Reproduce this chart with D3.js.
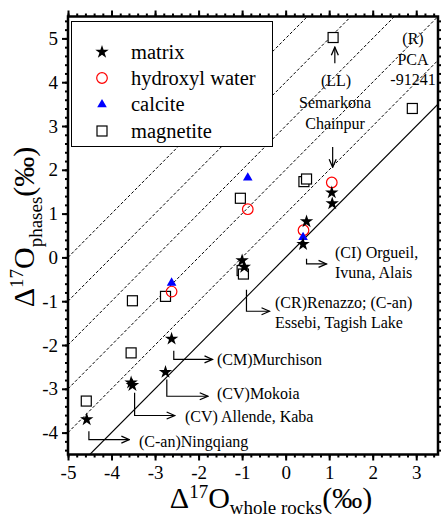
<!DOCTYPE html>
<html>
<head>
<meta charset="utf-8">
<script src="https://cdn.jsdelivr.net/npm/d3@7"></script>
<style>
  body { margin: 0; background: #fff; }
  svg { display: block; font-family: "Liberation Serif", "Times New Roman", serif; }
</style>
</head>
<body>
<div id="chart"></div>
<script>
// values (delta 17O, permil)
var matrixX = [-4.57, -3.55, -3.52, -2.76, -2.62, -1.00, -0.95, 0.40, 0.48, 1.06, 1.07];
var matrixY = [-3.70, -2.86, -2.92, -2.62, -1.86, -0.07, -0.22, 0.30, 0.82, 1.48, 1.23];
var hydroxylX = [-2.62, -0.87, 0.41, 1.06];
var hydroxylY = [-0.78, 1.10, 0.62, 1.71];
var calciteX = [-2.62, -0.87, 0.40];
var calciteY = [-0.57, 1.83, 0.47];
var magnetiteX = [-4.58, -3.55, -3.52, -2.76, -1.04, -1.00, -0.97, 0.42, 0.48, 1.09, 2.91];
var magnetiteY = [-3.28, -2.18, -0.99, -0.89, 1.35, -0.30, -0.38, 1.73, 1.79, 5.02, 3.40];

var lineOffsets = [0, 1, 2, 3, 4, 5];   // y = x + k
var xTicks = [-5, -4, -3, -2, -1, 0, 1, 2, 3];
var yTicks = [-4, -3, -2, -1, 0, 1, 2, 3, 4, 5];
var legendNames = ["matrix", "hydroxyl water", "calcite", "magnetite"];

// elbow arrows: [x0, y0, yBend, xEnd] in data units
var elbows = [
    [0.48, -0.03, -0.15, 0.94],
    [-0.90, -0.74, -1.23, -0.37],
    [-2.57, -2.13, -2.33, -1.68],
    [-2.73, -2.79, -3.17, -1.79],
    [-3.47, -3.09, -3.61, -2.55],
    [-4.52, -3.97, -4.16, -3.59]
];

var width = 441;
var height = 519;

var x = d3.scaleLinear().domain([-5, 3.5]).range([68, 438]);
var y = d3.scaleLinear().domain([-4.5, 5.5]).range([454.5, 16.5]);

var svg = d3.select("#chart")
            .append("svg")
            .attr("width", width)
            .attr("height", height);

svg.append("defs").append("clipPath").attr("id", "plot")
    .append("rect")
    .attr("x", 68).attr("y", 16.5)
    .attr("width", 370).attr("height", 438);

svg.select("defs").append("marker")
    .attr("id", "head")
    .attr("viewBox", "-9 -5 10 10")
    .attr("refX", 0).attr("refY", 0)
    .attr("markerUnits", "userSpaceOnUse")
    .attr("markerWidth", 10).attr("markerHeight", 10)
    .attr("orient", "auto")
    .append("path")
    .attr("d", "M-8,-3.5 L0,0 L-8,3.5")
    .attr("fill", "none")
    .attr("stroke", "black")
    .attr("stroke-width", 1.3);

// reference lines
var lines = svg.append("g").attr("clip-path", "url(#plot)");
lines.selectAll("line")
    .data(lineOffsets)
    .enter()
    .append("line")
    .attr("x1", x(-5)).attr("x2", x(3.5))
    .attr("y1", (k) => y(-5 + k))
    .attr("y2", (k) => y(3.5 + k))
    .attr("stroke", "black")
    .attr("stroke-width", (k) => k == 0 ? 1.2 : 1)
    .attr("stroke-dasharray", (k) => k == 0 ? null : "3,2");

// legend
var legend = svg.append("g");
legend.append("rect")
    .attr("x", 71.5).attr("y", 21.5)
    .attr("width", 201).attr("height", 125)
    .attr("fill", "white")
    .attr("stroke", "black")
    .attr("stroke-width", 1);

var legendRows = [52, 78, 104, 131];

function drawSymbol(g, kind, cx, cy) {
    if (kind == 0) {
        g.append("path")
            .attr("d", d3.symbol(d3.symbolStar, 56)())
            .attr("transform", "translate(" + cx + "," + cy + ")")
            .attr("fill", "black");
    } else if (kind == 1) {
        g.append("circle")
            .attr("cx", cx).attr("cy", cy).attr("r", 5.3)
            .attr("fill", "none")
            .attr("stroke", "#ff0000")
            .attr("stroke-width", 1.2);
    } else if (kind == 2) {
        g.append("path")
            .attr("d", d3.symbol(d3.symbolTriangle, 40)())
            .attr("transform", "translate(" + cx + "," + (cy + 0.5) + ")")
            .attr("fill", "#0000ff");
    } else {
        g.append("rect")
            .attr("x", cx - 5).attr("y", cy - 5)
            .attr("width", 10).attr("height", 10)
            .attr("fill", "white")
            .attr("stroke", "black")
            .attr("stroke-width", 1.2);
    }
}

legendNames.forEach(function(name, i) {
    drawSymbol(legend, i, 102, legendRows[i]);
    legend.append("text")
        .attr("x", 131)
        .attr("y", legendRows[i] + 6.5)
        .attr("font-size", 20.5)
        .text(name);
});

// data points, magnetite first so the others sit on top
var marks = svg.append("g");
magnetiteX.forEach((d, i) => drawSymbol(marks, 3, x(d), y(magnetiteY[i])));
hydroxylX.forEach((d, i) => drawSymbol(marks, 1, x(d), y(hydroxylY[i])));
calciteX.forEach((d, i) => drawSymbol(marks, 2, x(d), y(calciteY[i])));
matrixX.forEach((d, i) => drawSymbol(marks, 0, x(d), y(matrixY[i])));

// annotations
var notes = svg.append("g").attr("font-size", 16);

notes.selectAll("path")
    .data(elbows)
    .enter()
    .append("path")
    .attr("d", (e) => "M" + x(e[0]) + "," + y(e[1]) + "V" + y(e[2]) + "H" + x(e[3]))
    .attr("fill", "none")
    .attr("stroke", "black")
    .attr("stroke-width", 1.2)
    .attr("marker-end", "url(#head)");

notes.append("line")
    .attr("x1", x(1.13)).attr("x2", x(1.13))
    .attr("y1", y(4.43)).attr("y2", y(4.8))
    .attr("stroke", "black").attr("stroke-width", 1.2)
    .attr("marker-end", "url(#head)");
notes.append("line")
    .attr("x1", x(1.08)).attr("x2", x(1.08))
    .attr("y1", y(2.52)).attr("y2", y(2.06))
    .attr("stroke", "black").attr("stroke-width", 1.2)
    .attr("marker-end", "url(#head)");

var labels = [
    ["(LL)", 336, 86, "middle"],
    ["Semarkona", 335, 108, "middle"],
    ["Chainpur", 335, 129, "middle"],
    ["(R)", 413, 44, "middle"],
    ["PCA", 413, 65, "middle"],
    ["-91241", 413, 85, "middle"],
    ["(CI) Orgueil,", 335, 258, "start"],
    ["Ivuna, Alais", 335, 278, "start"],
    ["(CR)Renazzo; (C-an)", 275, 308, "start"],
    ["Essebi, Tagish Lake", 275, 328, "start"],
    ["(CM)Murchison", 217, 365, "start"],
    ["(CV)Mokoia", 217, 399, "start"],
    ["(CV) Allende, Kaba", 185, 422, "start"],
    ["(C-an)Ningqiang", 139, 447, "start"]
];
notes.selectAll("text")
    .data(labels)
    .enter()
    .append("text")
    .attr("x", (d) => d[1])
    .attr("y", (d) => d[2])
    .attr("text-anchor", (d) => d[3])
    .text((d) => d[0]);

// frame and axes
function styleAxis(g) {
    g.select(".domain").remove();
    g.selectAll("line").attr("stroke", "black").attr("stroke-width", 2);
    g.selectAll("text").attr("font-size", 19).attr("font-family", "Liberation Serif");
}

var minorX = d3.range(-5, 3.51, 0.2);
var minorY = d3.range(-4.4, 5.51, 0.2);

svg.append("g").attr("transform", "translate(0,454.5)")
    .call(d3.axisBottom(x).tickValues(xTicks).tickSize(6).tickPadding(5).tickFormat((d) => String(d)))
    .call(styleAxis);
svg.append("g").attr("transform", "translate(0,454.5)")
    .call(d3.axisBottom(x).tickValues(minorX).tickSize(3).tickFormat(""))
    .call(styleAxis);
svg.append("g").attr("transform", "translate(0,16.5)")
    .call(d3.axisTop(x).tickValues(minorX).tickSize(3).tickFormat(""))
    .call(styleAxis);
svg.append("g").attr("transform", "translate(0,16.5)")
    .call(d3.axisTop(x).tickValues(xTicks).tickSize(6).tickFormat(""))
    .call(styleAxis);

svg.append("g").attr("transform", "translate(68,0)")
    .call(d3.axisLeft(y).tickValues(yTicks).tickSize(6).tickPadding(4).tickFormat((d) => String(d)))
    .call(styleAxis);
svg.append("g").attr("transform", "translate(68,0)")
    .call(d3.axisLeft(y).tickValues(minorY).tickSize(3).tickFormat(""))
    .call(styleAxis);
svg.append("g").attr("transform", "translate(438,0)")
    .call(d3.axisRight(y).tickValues(minorY).tickSize(3).tickFormat(""))
    .call(styleAxis);

svg.append("rect")
    .attr("x", 68).attr("y", 16.5)
    .attr("width", 370).attr("height", 438)
    .attr("fill", "none")
    .attr("stroke", "black")
    .attr("stroke-width", 2.5);

// axis titles
var xt = svg.append("text")
    .attr("x", 271).attr("y", 508)
    .attr("text-anchor", "middle")
    .attr("font-size", 30);
xt.append("tspan").text("\u0394");
xt.append("tspan").attr("font-size", 19).attr("dy", -10).text("17");
xt.append("tspan").attr("dy", 10).text("O");
xt.append("tspan").attr("font-size", 19).attr("dy", 6).text("whole rocks");
xt.append("tspan").attr("dy", -6).text("(\u2030)");

var yt = svg.append("text")
    .attr("transform", "translate(34,227) rotate(-90)")
    .attr("text-anchor", "middle")
    .attr("font-size", 30);
yt.append("tspan").text("\u0394");
yt.append("tspan").attr("font-size", 19).attr("dy", -11).text("17");
yt.append("tspan").attr("dy", 11).text("O");
yt.append("tspan").attr("font-size", 19).attr("dy", 8).text("phases");
yt.append("tspan").attr("dy", -8).text("(\u2030)");
</script>
</body>
</html>
